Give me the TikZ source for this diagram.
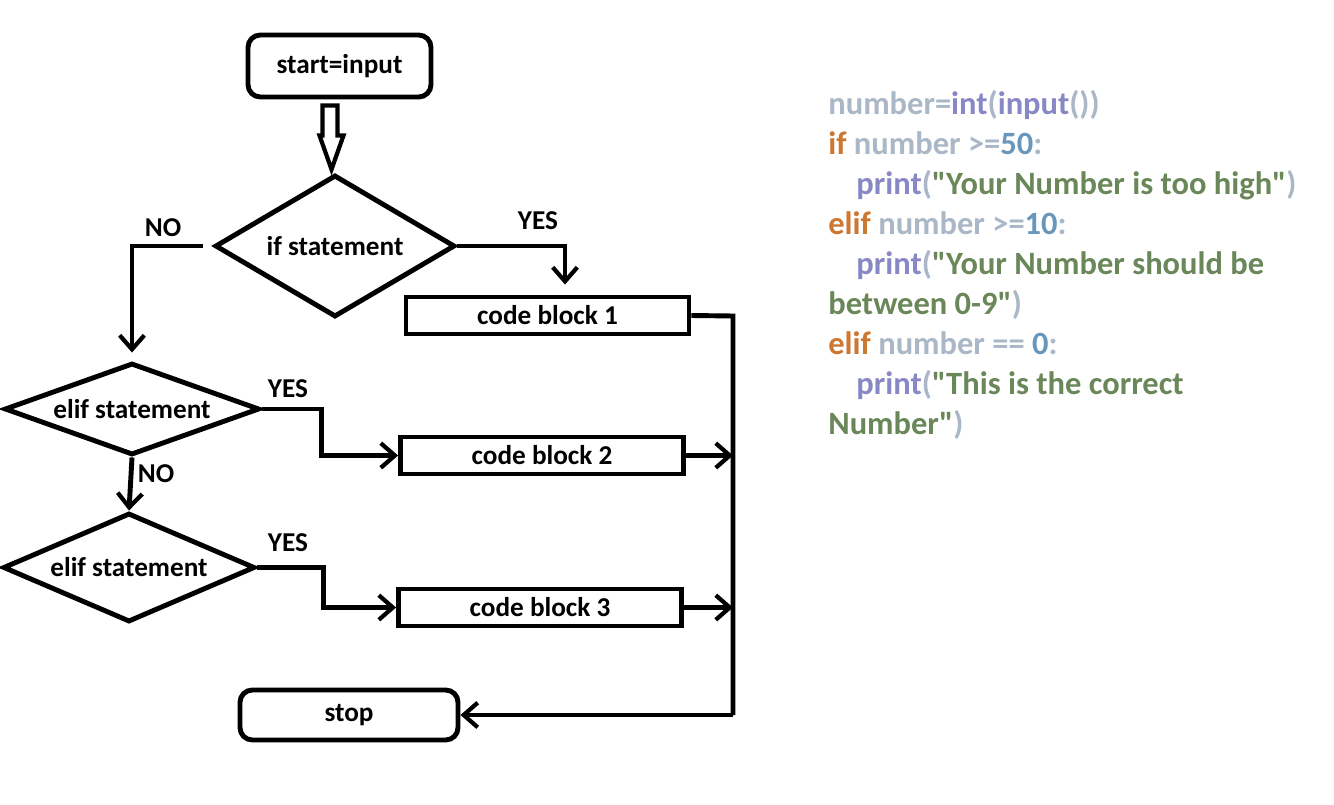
\documentclass[tikz,border=0pt]{standalone}
\usepackage{fontspec}
\setmainfont{Carlito}
\usepackage{xcolor}
\usetikzlibrary{positioning, arrows.meta, calc, shapes.geometric}
\definecolor{codegray}{HTML}{A9B7C6}
\definecolor{codepurple}{HTML}{8888C6}
\definecolor{codeorange}{HTML}{CC7832}
\definecolor{codeblue}{HTML}{6897BB}
\definecolor{codegreen}{HTML}{6A8759}

\tikzset{
  flowtext/.style={font=\fontsize{15.5}{18}\selectfont\bfseries},
  terminal/.style={flowtext, draw, line width=2.8pt, rounded corners=7pt, inner sep=0pt},
  decision/.style={flowtext, draw, line width=2.8pt, diamond, inner sep=0pt},
  blockbox/.style={flowtext, draw, line width=2.8pt, inner sep=0pt,
                   minimum width=5.66cm, minimum height=0.74cm},
  answer/.style={flowtext, inner sep=0pt},
  line/.style={line width=2.8pt},
  conn/.style={line, -{Straight Barb[length=8pt, width=14pt, line width=2.4pt]}},
}

\newcommand{\cg}[1]{\textcolor{codegray}{#1}}
\newcommand{\cp}[1]{\textcolor{codepurple}{#1}}
\newcommand{\co}[1]{\textcolor{codeorange}{#1}}
\newcommand{\cb}[1]{\textcolor{codeblue}{#1}}
\newcommand{\cs}[1]{\textcolor{codegreen}{#1}}
% straight double quote, bypassing the tex-text mapping
\newcommand{\dq}{\XeTeXglyph\XeTeXcharglyph"22\relax}

\begin{document}
\begin{tikzpicture}[x=0.02cm, y=-0.02cm]
  \useasboundingbox (0,0) rectangle (1334,804);

  % flowchart nodes
  \node[terminal, minimum width=3.66cm, minimum height=1.24cm] (start) at (339.5,66) {start=input};
  \node[decision, shape aspect=1.69, minimum width=4.8cm, minimum height=2.84cm] (if) at (335,246) {if statement};
  \node[decision, shape aspect=2.77, minimum width=5.1cm, minimum height=1.84cm] (elif1) at (132,409) {elif statement};
  \node[decision, shape aspect=2.31, minimum width=5.04cm, minimum height=2.18cm] (elif2) at (129,567.5) {elif statement};
  \node[blockbox] (cb1) at (547.5,315.5) {code block 1};
  \node[blockbox] (cb2) at (542,455.5) {code block 2};
  \node[blockbox] (cb3) at (540,607.5) {code block 3};
  \node[terminal, minimum width=4.36cm, minimum height=1cm] (stop) at (349,715) {stop};

  \coordinate (railtop) at (733,316);
  \coordinate (railbot) at (733,715);

  % hollow arrow below start
  \draw[line width=2.4pt, line join=miter, shift={(start.south)}]
    (-17,6) -- (-2,6) -- (-2,36) -- (4,36) -- (-8,70) -- (-20,36) -- (-17,36) -- cycle;

  % branches
  \draw[conn, shorten >=0.16cm] ($(if.west)+(-10,0)$) -| (elif1.north);
  \node[answer] (no1) at (163,228) {NO};
  \draw[conn] (if.east) -| ($(cb1.north)+(17.5,-10)$);
  \node[answer] (yes1) at (538,221) {YES};

  \draw[conn] (elif1.east) -- ++(60,0) |- (cb2.west);
  \node[answer] (yes2) at (288,389) {YES};
  \draw[conn] (elif1.south) -- (elif2.north);
  \node[answer] (no2) at (156,474) {NO};

  \draw[conn] (elif2.east) -- ++(66,0) |- (cb3.west);
  \node[answer] (yes3) at (288,543) {YES};

  % joining rail
  \draw[line] (cb1.east) -- (railtop) -- (railbot);
  \draw[conn] (railbot) -- (stop.east);
  \draw[conn] (cb2.east) -- (cb2.east -| railtop);
  \draw[conn] (cb3.east) -- (cb3.east -| railtop);

  % python code
  \node[anchor=north west, inner sep=0pt, align=left,
        font=\fontsize{18.5}{22.8}\selectfont\bfseries] (code) at (828,90) {%
    \cg{number=}\cp{int}\cg{(}\cp{input}\cg{())}\\
    \co{if} \cg{number >=}\cb{50}\cg{:}\\
    \hspace*{16pt}\cp{print}\cg{(}\cs{\dq Your Number is too high\dq}\cg{)}\\
    \co{elif} \cg{number >=}\cb{10}\cg{:}\\
    \hspace*{16pt}\cp{print}\cg{(}\cs{\dq Your Number should be}\\
    \cs{between 0-9\dq}\cg{)}\\
    \co{elif} \cg{number == }\cb{0}\cg{:}\\
    \hspace*{16pt}\cp{print}\cg{(}\cs{\dq This is the correct}\\
    \cs{Number\dq}\cg{)}};
\end{tikzpicture}
\end{document}
